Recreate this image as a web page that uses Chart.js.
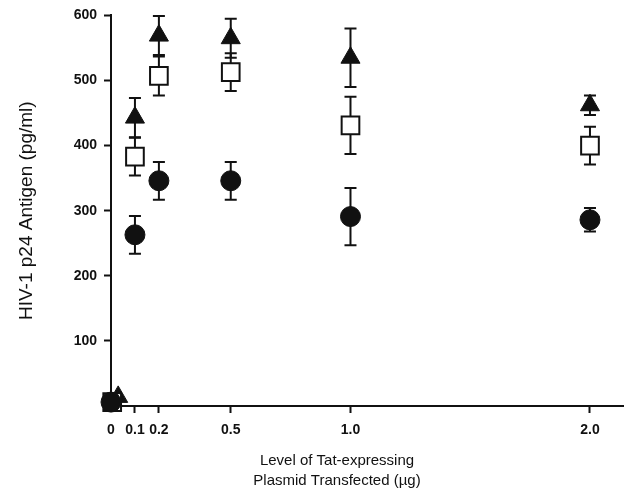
<!DOCTYPE html>
<html>
<head>
<meta charset="utf-8">
<script src="https://cdn.jsdelivr.net/npm/chart.js@4/dist/chart.umd.min.js"></script>
<style>
    html, body { margin: 0; padding: 0; background: #fff; }
    #wrap { width: 638px; height: 492px; }
</style>
</head>
<body>
<div id="wrap"><canvas id="chart" width="638" height="492"></canvas></div>
<script>
// Tick labels
const xTicks = [0, 0.1, 0.2, 0.5, 1.0, 2.0]
const yTicks = [100, 200, 300, 400, 500, 600]

// Dose of plasmid (ug); the zero points sit slightly apart in the figure
const circleDose = [0, 0.1, 0.2, 0.5, 1.0, 2.0]
const squareDose = [0.005, 0.1, 0.2, 0.5, 1.0, 2.0]
const triangleDose = [0.03, 0.1, 0.2, 0.5, 1.0, 2.0]

// HIV-1 p24 antigen (pg/ml) and error (+/-)
const circleValues = [6, 263, 346, 346, 291, 286]
const circleErrors = [0, 29, 29, 29, 44, 18]
const squareValues = [6, 383, 507, 513, 431, 400]
const squareErrors = [0, 29, 30, 29, 44, 29]
const triangleValues = [14, 443, 569, 565, 535, 462]
const triangleErrors = [0, 30, 30, 30, 45, 15]

const yTitle = 'HIV-1 p24 Antigen (pg/ml)'
const xTitleLines = ['Level of Tat-expressing', 'Plasmid Transfected (\u00b5g)']

const FONT = '"Liberation Sans", Arial, Helvetica, sans-serif'
const INK = '#111'

function toPoints(xs, ys, errs) {
    return xs.map((x, i) => ({ x: x, y: ys[i], err: errs[i] }))
}

// Draw vertical error bars with caps, under the markers
const errorBars = {
    id: 'errorBars',
    beforeDatasetsDraw(chart) {
        const { ctx, scales: { x, y } } = chart
        ctx.save()
        ctx.strokeStyle = INK
        ctx.lineWidth = 2
        chart.data.datasets.forEach(ds => {
            ds.data.forEach(p => {
                if (!p.err) return
                const px = x.getPixelForValue(p.x)
                const top = y.getPixelForValue(p.y + p.err)
                const bot = y.getPixelForValue(p.y - p.err)
                ctx.beginPath()
                ctx.moveTo(px, top)
                ctx.lineTo(px, bot)
                ctx.moveTo(px - 6, top)
                ctx.lineTo(px + 6, top)
                ctx.moveTo(px - 6, bot)
                ctx.lineTo(px + 6, bot)
                ctx.stroke()
            })
        })
        ctx.restore()
    }
}

// Two-line x axis title, set a bit left of the plot centre as in the figure
const xTitle = {
    id: 'xTitle',
    afterDraw(chart) {
        const ctx = chart.ctx
        ctx.save()
        ctx.fillStyle = INK
        ctx.font = '15px ' + FONT
        ctx.textAlign = 'center'
        ctx.textBaseline = 'middle'
        ctx.fillText(xTitleLines[0], 337, 461)
        ctx.fillText(xTitleLines[1], 337, 481)
        ctx.restore()
    }
}

const hideZero = (c) => (c.tick && c.tick.value === 0 ? 'rgba(0,0,0,0)' : INK)

const chart = new Chart(document.getElementById('chart').getContext('2d'), {
    type: 'scatter',
    data: {
        datasets: [
            {
                label: 'circle',
                data: toPoints(circleDose, circleValues, circleErrors),
                pointStyle: 'circle',
                pointRadius: 10,
                backgroundColor: INK,
                borderColor: INK,
                borderWidth: 1,
                clip: false
            },
            {
                label: 'square',
                data: toPoints(squareDose, squareValues, squareErrors),
                pointStyle: 'rect',
                pointRadius: 12.5,
                backgroundColor: '#fff',
                borderColor: INK,
                borderWidth: 2,
                clip: false
            },
            {
                label: 'triangle',
                data: toPoints(triangleDose, triangleValues, triangleErrors),
                pointStyle: 'triangle',
                pointRadius: 11,
                backgroundColor: INK,
                borderColor: INK,
                borderWidth: 1,
                clip: false
            }
        ]
    },
    options: {
        responsive: false,
        animation: false,
        layout: { padding: { top: 12, right: 13, left: 0, bottom: 0 } },
        plugins: {
            legend: { display: false },
            tooltip: { enabled: false }
        },
        scales: {
            x: {
                type: 'linear',
                min: 0,
                max: 2.14,
                afterBuildTicks: (scale) => { scale.ticks = xTicks.map(v => ({ value: v })) },
                afterFit: (scale) => { scale.height = 86 },
                border: { display: true, color: INK, width: 2 },
                grid: { drawOnChartArea: false, drawTicks: true, tickLength: 7, tickWidth: 2, tickColor: hideZero },
                ticks: {
                    autoSkip: false,
                    maxRotation: 0,
                    padding: 9,
                    color: INK,
                    font: { family: FONT, size: 14, weight: 'bold' },
                    callback: (v) => (v === 0 ? '0' : v.toFixed(1))
                }
            },
            y: {
                min: 0,
                max: 600,
                afterBuildTicks: (scale) => { scale.ticks = [0].concat(yTicks).map(v => ({ value: v })) },
                afterFit: (scale) => { scale.width = 111 },
                border: { display: true, color: INK, width: 2 },
                grid: { drawOnChartArea: false, drawTicks: true, tickLength: 7, tickWidth: 2, tickColor: hideZero },
                ticks: {
                    padding: 7,
                    color: INK,
                    font: { family: FONT, size: 14, weight: 'bold' },
                    callback: (v) => (v === 0 ? '' : String(v))
                },
                title: {
                    display: true,
                    text: yTitle,
                    color: INK,
                    font: { family: FONT, size: 19 },
                    padding: { top: 15, bottom: 0 }
                }
            }
        }
    },
    plugins: [errorBars, xTitle]
})
</script>
</body>
</html>
